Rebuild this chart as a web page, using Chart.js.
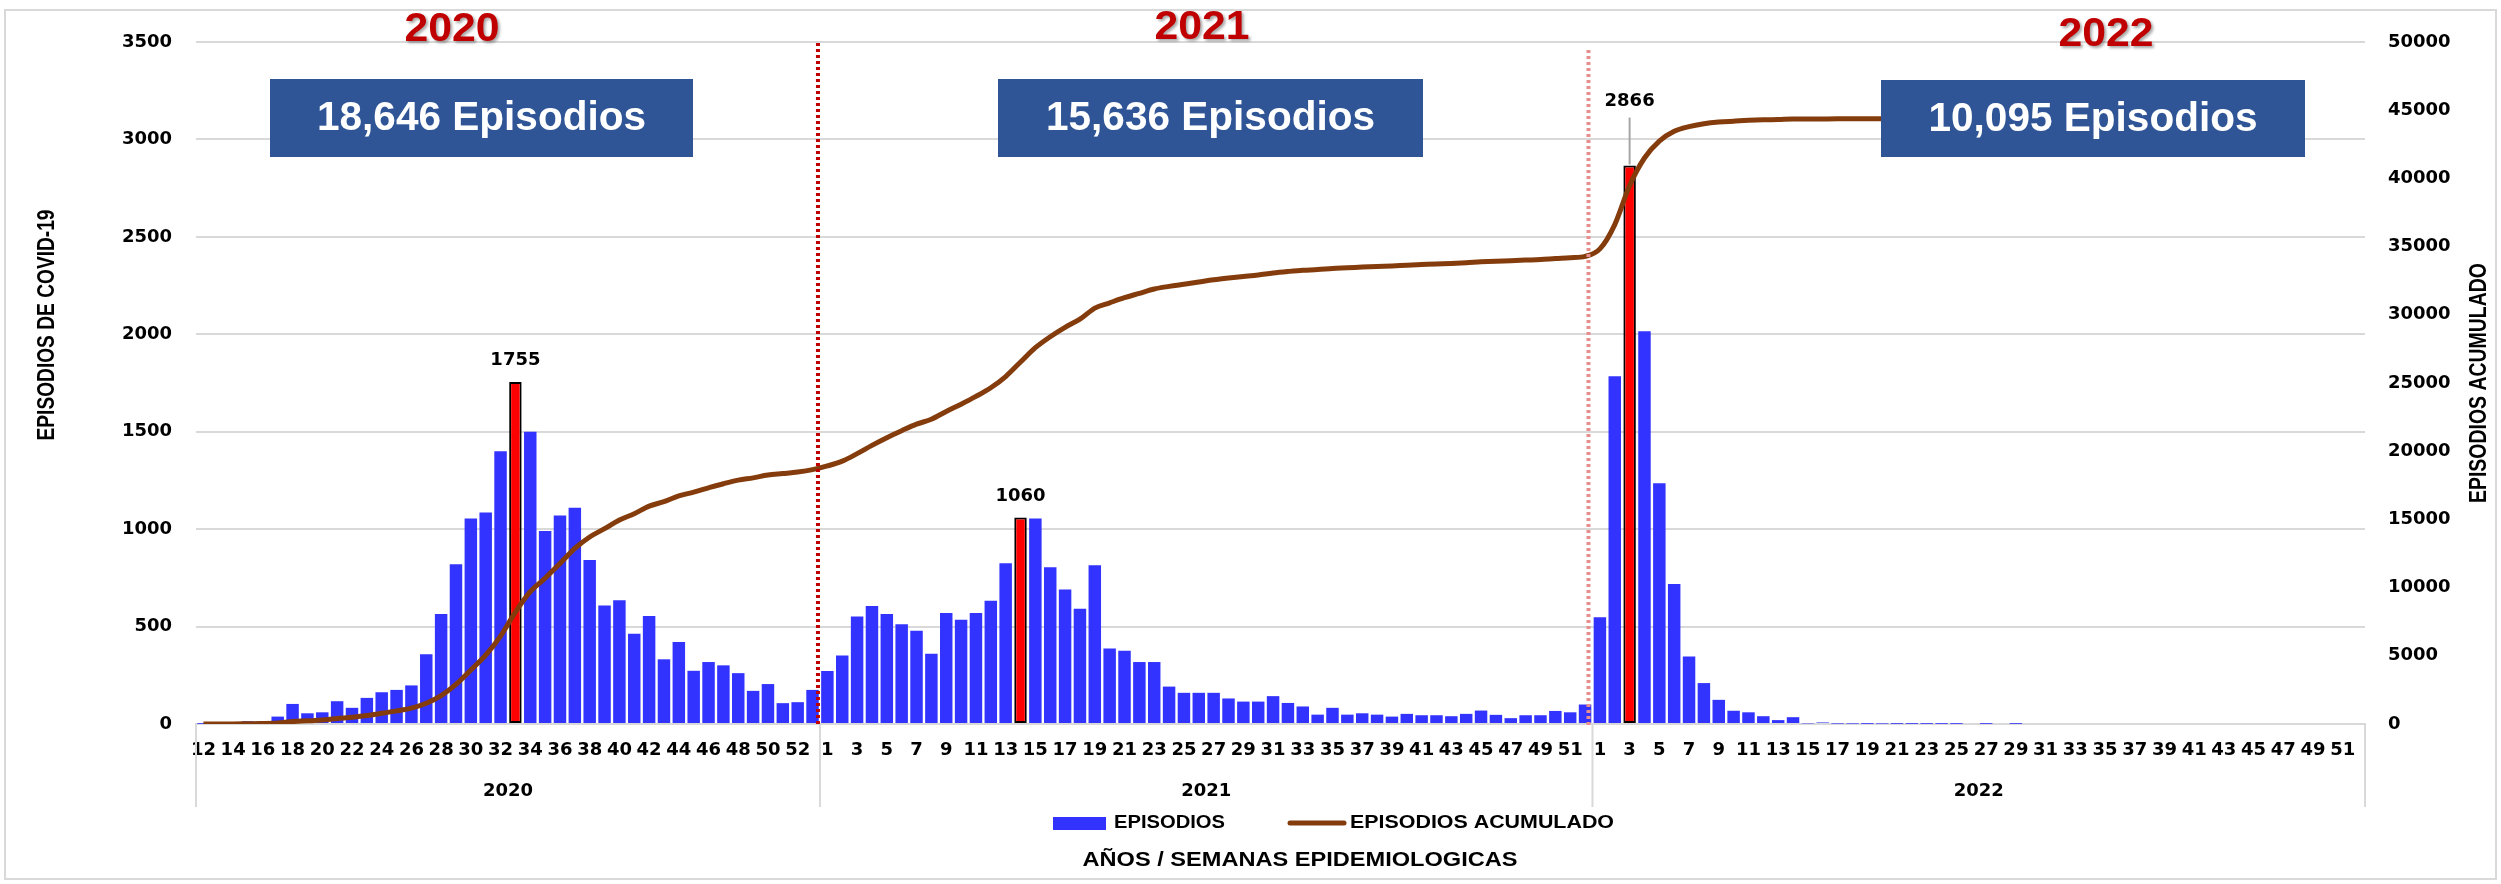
<!DOCTYPE html>
<html><head><meta charset="utf-8">
<script src="https://cdn.jsdelivr.net/npm/chart.js@4.4.1/dist/chart.umd.min.js"></script>
<style>html,body{margin:0;padding:0;background:#fff;}canvas{display:block;}</style>
</head><body>
<canvas id="c" width="2501" height="884"></canvas>
<script>
// ---------------- DATA ----------------
const years = ['2020', '2021', '2022'];
const totalsText = ['18,646 Episodios', '15,636 Episodios', '10,095 Episodios'];

const weeks2020 = [12,13,14,15,16,17,18,19,20,21,22,23,24,25,26,27,28,29,30,31,32,33,34,35,36,37,38,39,40,41,42,43,44,45,46,47,48,49,50,51,52,53];
const weeks2021 = [1,2,3,4,5,6,7,8,9,10,11,12,13,14,15,16,17,18,19,20,21,22,23,24,25,26,27,28,29,30,31,32,33,34,35,36,37,38,39,40,41,42,43,44,45,46,47,48,49,50,51,52];
const weeks2022 = [1,2,3,4,5,6,7,8,9,10,11,12,13,14,15,16,17,18,19,20,21,22,23,24,25,26,27,28,29,30,31,32,33,34,35,36,37,38,39,40,41,42,43,44,45,46,47,48,49,50,51,52];

const episodios2020 = [1,2,4,14,14,38,103,55,60,117,83,134,163,175,198,358,565,820,1055,1085,1400,1755,1500,990,1070,1110,842,608,635,463,554,332,421,273,318,301,261,170,205,107,112,175];
const episodios2021 = [272,352,552,605,565,512,478,360,570,535,570,632,825,1060,1055,805,690,592,815,388,376,318,318,192,160,160,160,131,115,115,143,108,90,48,83,48,55,48,38,52,45,45,40,52,69,47,30,45,45,67,60,100];
const episodios2022 = [548,1785,2866,2015,1235,718,346,210,124,68,60,40,20,35,3,8,2,2,1,2,1,1,1,1,1,0,1,0,1,0,0,0,0,0,0,0,0,0,0,0,null,null,null,null,null,null,null,null,null,null,null,null];

const acumulado2020 = [1,3,7,21,35,73,176,231,291,408,491,625,788,963,1161,1519,2084,2904,3959,5044,6444,8199,9699,10689,11759,12869,13711,14319,14954,15417,15971,16303,16724,16997,17315,17616,17877,18047,18252,18359,18471,18646];
const acumulado2021 = [18918,19270,19822,20427,20992,21504,21982,22342,22912,23447,24017,24649,25474,26534,27589,28394,29084,29676,30491,30879,31255,31573,31891,32083,32243,32403,32563,32694,32809,32924,33067,33175,33265,33313,33396,33444,33499,33547,33585,33637,33682,33727,33767,33819,33888,33935,33965,34010,34055,34122,34182,34282];
const acumulado2022 = [34830,36615,39481,41496,42731,43449,43795,44005,44129,44197,44257,44297,44317,44352,44355,44363,44365,44367,44368,44370,44371,44372,44373,44374,44375,44375,44376,44376,44377,44377,44377,44377,44377,44377,44377,44377,44377,44377,44377,44377];

// ---------------- BUILD ----------------
const weekLabels = [...weeks2020, ...weeks2021, ...weeks2022].map(String);
const episodios = [...episodios2020, ...episodios2021, ...episodios2022];
const acumulado = [...acumulado2020, ...acumulado2021, ...acumulado2022];
const yearSizes = [weeks2020.length, weeks2021.length, weeks2022.length];

// peak (max) bar of each year, highlighted in red
const peaks = [];
{
  let off = 0;
  [episodios2020, episodios2021, episodios2022].forEach(arr => {
    let bi = 0;
    arr.forEach((v, i) => { if (v !== null && v > arr[bi]) bi = i; });
    peaks.push(off + bi);
    off += arr.length;
  });
}
const isPeak = i => peaks.includes(i);

const BLUE = '#3333FF', RED = '#FF0000', BROWN = '#843C0C', BOXBLUE = '#2F5597', TITLERED = '#C00000', GRID = '#D9D9D9';
const tickFont = { family: 'DejaVu Sans', weight: 'bold', size: 18 };

function scaledText(ctx, text, cx, cy, font, color, targetW, rotate) {
  ctx.save();
  ctx.font = font;
  ctx.fillStyle = color;
  ctx.textAlign = 'center';
  ctx.textBaseline = 'middle';
  const w = ctx.measureText(text).width;
  const sx = targetW ? targetW / w : 1;
  ctx.translate(cx, cy);
  if (rotate) ctx.rotate(-Math.PI / 2);
  ctx.scale(sx, 1);
  ctx.fillText(text, 0, 0);
  ctx.restore();
}

const decor = {
  id: 'decor',
  beforeDraw(chart) {
    const ctx = chart.ctx;
    ctx.save();
    ctx.fillStyle = '#fff';
    ctx.fillRect(0, 0, chart.width, chart.height);
    ctx.strokeStyle = GRID;
    ctx.lineWidth = 2;
    ctx.strokeRect(5, 10, 2491, 869);
    ctx.restore();
  },
  afterDraw(chart) {
    const { ctx, chartArea: ca } = chart;
    const x = chart.scales.x;
    const half = (x.getPixelForValue(1) - x.getPixelForValue(0)) / 2;
    const b1 = x.getPixelForValue(yearSizes[0]) - half;
    const b2 = x.getPixelForValue(yearSizes[0] + yearSizes[1]) - half;
    const bounds = [ca.left, b1, b2, ca.right];

    // group separators under the axis
    ctx.save();
    ctx.strokeStyle = GRID;
    ctx.lineWidth = 2;
    bounds.forEach(px => { ctx.beginPath(); ctx.moveTo(px, ca.bottom); ctx.lineTo(px, 807); ctx.stroke(); });
    ctx.restore();

    // year group labels
    for (let i = 0; i < 3; i++) {
      scaledText(ctx, years[i], (bounds[i] + bounds[i + 1]) / 2, 791, 'bold 18px "DejaVu Sans"', '#000');
    }

    // dotted year separators
    ctx.save();
    ctx.setLineDash([3, 3]);
    ctx.lineWidth = 4;
    ctx.strokeStyle = TITLERED;
    ctx.beginPath(); ctx.moveTo(b1 - 2, ca.top + 1); ctx.lineTo(b1 - 2, ca.bottom); ctx.stroke();
    ctx.strokeStyle = '#E78E8E';
    ctx.beginPath(); ctx.moveTo(b2 - 4, 50); ctx.lineTo(b2 - 4, ca.bottom + 4); ctx.stroke();
    ctx.restore();

    // peak data labels
    const meta = chart.getDatasetMeta(0);
    const offs = [22, 21, 64];
    peaks.forEach((gi, k) => {
      const el = meta.data[gi];
      const ly = el.y - offs[k];
      if (k === 2) {
        ctx.save();
        ctx.strokeStyle = '#A6A6A6';
        ctx.lineWidth = 2;
        ctx.beginPath(); ctx.moveTo(el.x, ly + 16); ctx.lineTo(el.x, el.y - 1); ctx.stroke();
        ctx.restore();
      }
      scaledText(ctx, String(episodios[gi]), el.x, ly, 'bold 18px "DejaVu Sans"', '#000');
    });

    // year titles
    const titlePos = [[452, 30], [1202, 28], [2106, 35]];
    titlePos.forEach((p, i) => {
      ctx.save();
      ctx.shadowColor = 'rgba(0,0,0,0.35)';
      ctx.shadowOffsetX = 2; ctx.shadowOffsetY = 2; ctx.shadowBlur = 3;
      scaledText(ctx, years[i], p[0], p[1], 'bold 41px "Liberation Sans"', TITLERED, 95);
      ctx.restore();
    });

    // total boxes
    const boxes = [[270, 79, 423, 78], [998, 79, 425, 78], [1881, 80, 424, 77]];
    boxes.forEach((bx, i) => {
      ctx.save();
      ctx.fillStyle = BOXBLUE;
      ctx.fillRect(bx[0], bx[1], bx[2], bx[3]);
      ctx.restore();
      scaledText(ctx, totalsText[i], bx[0] + bx[2] / 2, bx[1] + bx[3] / 2 + 1, 'bold 40px "Liberation Sans"', '#fff', 329);
    });

    // axis titles
    scaledText(ctx, 'EPISODIOS DE COVID-19', 48, 325, 'bold 23px "Liberation Sans"', '#000', 231, true);
    scaledText(ctx, 'EPISODIOS ACUMULADO', 2480, 383, 'bold 23px "Liberation Sans"', '#000', 240, true);
    scaledText(ctx, 'AÑOS / SEMANAS EPIDEMIOLOGICAS', 1300, 860, 'bold 21px "Liberation Sans"', '#000', 435);

    // legend
    ctx.save();
    ctx.fillStyle = BLUE;
    ctx.fillRect(1053, 817, 53, 13);
    ctx.strokeStyle = BROWN;
    ctx.lineWidth = 5;
    ctx.lineCap = 'round';
    ctx.beginPath(); ctx.moveTo(1290, 823); ctx.lineTo(1344, 823); ctx.stroke();
    ctx.restore();
    scaledText(ctx, chart.data.datasets[0].label, 1114 + 111 / 2, 823, 'bold 18px "Liberation Sans"', '#000', 111);
    scaledText(ctx, chart.data.datasets[1].label, 1350 + 264 / 2, 823, 'bold 18px "Liberation Sans"', '#000', 264);
  }
};

new Chart(document.getElementById('c'), {
  data: {
    labels: weekLabels,
    datasets: [
      {
        type: 'bar',
        label: 'EPISODIOS',
        data: episodios,
        yAxisID: 'y',
        order: 2,
        backgroundColor: c => isPeak(c.dataIndex) ? RED : BLUE,
        borderColor: '#000',
        borderWidth: c => isPeak(c.dataIndex) ? 2 : 0,
        borderSkipped: false,
        barPercentage: 0.84,
        categoryPercentage: 1.0
      },
      {
        type: 'line',
        label: 'EPISODIOS ACUMULADO',
        data: acumulado,
        yAxisID: 'y1',
        order: 1,
        borderColor: BROWN,
        borderWidth: 5,
        pointRadius: 0,
        cubicInterpolationMode: 'monotone',
        fill: false
      }
    ]
  },
  options: {
    responsive: false,
    devicePixelRatio: 1,
    animation: false,
    layout: { padding: { top: 42, left: 0, right: 0, bottom: 0 } },
    plugins: { legend: { display: false }, tooltip: { enabled: false } },
    scales: {
      x: {
        type: 'category',
        offset: true,
        grid: { display: false, drawTicks: false },
        border: { display: true, color: GRID, width: 2 },
        ticks: {
          autoSkip: false, maxRotation: 0, minRotation: 0,
          font: { family: 'DejaVu Sans', weight: 'bold', size: 18 },
          color: '#000', padding: 16,
          callback: (v, i) => (i % 2 === 0 ? weekLabels[i] : '')
        },
        afterFit: s => { s.height = 160; }
      },
      y: {
        position: 'left', min: 0, max: 3500,
        grid: { color: GRID, lineWidth: 2, drawTicks: false },
        border: { display: false },
        ticks: { stepSize: 500, font: tickFont, color: '#000', padding: 24, callback: v => String(v) },
        afterFit: s => { s.width = 196; }
      },
      y1: {
        position: 'right', min: 0, max: 50000,
        grid: { display: false, drawTicks: false },
        border: { display: false },
        ticks: { stepSize: 5000, font: tickFont, color: '#000', padding: 23, callback: v => String(v) },
        afterFit: s => { s.width = 136; }
      }
    }
  },
  plugins: [decor]
});
</script>
</body></html>
